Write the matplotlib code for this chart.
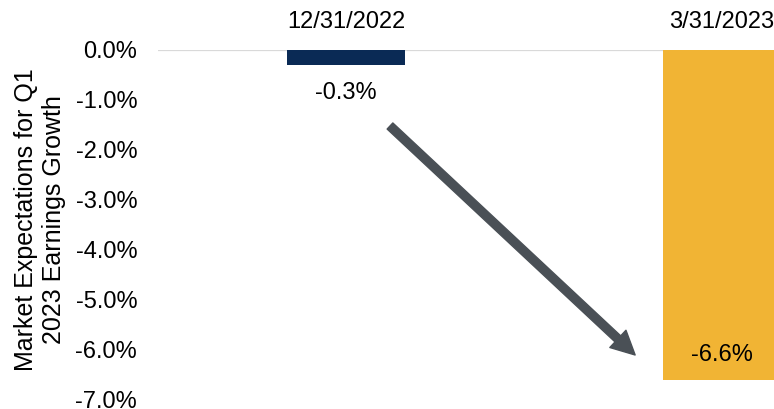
import matplotlib
matplotlib.use("Agg")
import matplotlib.pyplot as plt
from matplotlib.patches import FancyArrowPatch

plt.rcParams['font.family'] = ['Liberation Sans', 'DejaVu Sans']

categories = ["12/31/2022", "3/31/2023"]
values = [-0.3, -6.6]
colors = ["#0A2A55", "#F1B434"]
value_labels = ["-0.3%", "-6.6%"]
yticks = [0, -1, -2, -3, -4, -5, -6, -7]
ytick_labels = ["0.0%", "-1.0%", "-2.0%", "-3.0%", "-4.0%", "-5.0%", "-6.0%", "-7.0%"]

W, H = 774, 409
fig = plt.figure(figsize=(W / 100, H / 100), dpi=100)
ax = fig.add_axes([158 / W, 9 / H, 752 / W, 350 / H])

x = list(range(len(categories)))
ax.bar(x, values, width=0.314, color=colors, zorder=2)
ax.set_xlim(-0.5, 1.5)
ax.set_ylim(-7, 0)

ax.axhline(0, color="#D9D9D9", lw=1.6, zorder=1)
for s in ax.spines.values():
    s.set_visible(False)
ax.set_xticks([])
ax.set_yticks(yticks)
ax.set_yticklabels(ytick_labels, fontsize=17)
ax.tick_params(axis='y', length=0, pad=15)

ax.set_ylabel("Market Expectations for Q1\n2023 Earnings Growth", fontsize=18,
              linespacing=1.2)
ax.yaxis.set_label_coords(-0.122, 0.515)

# category labels at top
for xi, c in zip(x, categories):
    ax.text(xi, 0.55, c, ha='center', va='center', fontsize=17, clip_on=False)

# value labels
ax.text(x[0], -0.86, value_labels[0], ha='center', va='center', fontsize=17)
ax.text(x[1], -6.1, value_labels[1], ha='center', va='center', fontsize=17)

arrow = FancyArrowPatch((0.117, -1.52), (0.769, -6.1),
                        arrowstyle='simple,head_length=17,head_width=17,tail_width=6',
                        mutation_scale=1, color="#4A5056", shrinkA=0, shrinkB=0, zorder=3)
ax.add_patch(arrow)

fig.savefig("out.png", dpi=100)
